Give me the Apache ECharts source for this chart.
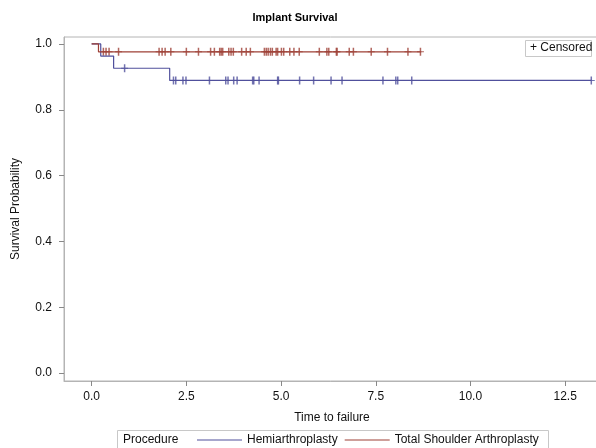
<!DOCTYPE html>
<html>
<head>
<meta charset="utf-8">
<script src="https://cdn.jsdelivr.net/npm/echarts@6/dist/echarts.min.js"></script>
<style>html,body{margin:0;padding:0;background:#fff;}#c{width:596px;height:448px;}</style>
</head>
<body>
<div id="c"></div>
<script>
// ---- data ----
var xTicks = [0, 2.5, 5.0, 7.5, 10.0, 12.5];
var yTicks = [0, 0.2, 0.4, 0.6, 0.8, 1.0];

// Hemiarthroplasty: step points (time, survival) and censored times
var hemiTimes = [0, 0.24, 0.58, 2.06, 13.2];
var hemiSurv  = [1.0, 0.963, 0.926, 0.889, 0.889];
var hemiCensor = [0.87, 2.16, 2.22, 2.41, 2.49, 3.11, 3.54, 3.60, 3.75, 3.84, 4.25, 4.28, 4.42,
  4.91, 4.93, 5.49, 5.86, 6.32, 6.61, 7.69, 8.03, 8.08, 8.45, 13.19];

// Total Shoulder Arthroplasty
var tsaTimes = [0, 0.18, 8.7];
var tsaSurv  = [1.0, 0.976, 0.976];
var tsaCensor = [0.31, 0.38, 0.46, 0.71, 1.78, 1.86, 1.94, 2.09, 2.50, 2.82, 3.14, 3.24, 3.38, 3.42,
  3.46, 3.62, 3.68, 3.74, 3.96, 4.08, 4.19, 4.56, 4.61, 4.66, 4.72, 4.77, 4.87, 4.91, 5.01, 5.07,
  5.23, 5.34, 5.48, 6.01, 6.21, 6.26, 6.46, 6.48, 6.80, 6.91, 7.38, 7.81, 8.35, 8.68];

var hemiColor = '#50509c';
var tsaColor = '#9e4036';
var FONT = 'Liberation Sans, Arial, sans-serif';

function stepData(t, s) { return t.map(function (v, i) { return [v, s[i]]; }); }
function survAt(t, s, x) {
  var v = s[0];
  for (var i = 0; i < t.length; i++) { if (t[i] <= x) v = s[i]; }
  return v;
}
function censorData(t, s, c) { return c.map(function (x) { return [x, survAt(t, s, x)]; }); }

var plusPath = 'path://M2.75,0H4.25V8H2.75Z M0,3.5H7V4.5H0Z';

var chart = echarts.init(document.getElementById('c'), null, { renderer: 'canvas' });
chart.setOption({
  animation: false,
  backgroundColor: '#fff',
  textStyle: { fontFamily: FONT },
  title: {
    text: 'Implant Survival', left: 290, top: 7, textAlign: 'center',
    textStyle: { fontFamily: FONT, fontSize: 11, fontWeight: 'bold', color: '#000' }
  },
  grid: { left: 64, right: -4, top: 37, bottom: 67, outerBoundsMode: 'none',
    show: true, borderColor: '#b4b4b4', borderWidth: 1 },
  xAxis: {
    type: 'value', min: -0.73, max: 13.42,
    name: 'Time to failure', nameLocation: 'middle', nameGap: 31,
    nameTextStyle: { fontFamily: FONT, fontSize: 12, color: '#111' },
    axisLine: { show: true, onZero: false, lineStyle: { color: '#b4b4b4' } },
    axisTick: { show: true, inside: false, length: 5, customValues: xTicks, lineStyle: { color: '#888' } },
    axisLabel: { customValues: xTicks, margin: 10, fontFamily: FONT, fontSize: 12, color: '#111',
      formatter: function (v) { return v.toFixed(1); } },
    splitLine: { show: false }
  },
  yAxis: {
    type: 'value', min: -0.024, max: 1.021,
    name: 'Survival Probability', nameLocation: 'middle', nameGap: 42, nameRotate: 90,
    nameTextStyle: { fontFamily: FONT, fontSize: 12, color: '#111' },
    axisLine: { show: true, onZero: false, lineStyle: { color: '#b4b4b4' } },
    axisTick: { show: true, inside: false, length: 5, customValues: yTicks, lineStyle: { color: '#888' } },
    axisLabel: { customValues: yTicks, margin: 12, fontFamily: FONT, fontSize: 12, color: '#111',
      formatter: function (v) { return v.toFixed(1); } },
    splitLine: { show: false }
  },
  legend: {
    data: ['Hemiarthroplasty', 'Total Shoulder Arthroplasty'],
    left: 197, top: 434, itemWidth: 45, itemHeight: 1, itemGap: 7, icon: 'rect', padding: 0,
    textStyle: { fontFamily: FONT, fontSize: 12, color: '#111' }
  },
  graphic: [
    { type: 'rect', shape: { x: 117.5, y: 430.5, width: 431, height: 20 },
      style: { fill: 'none', stroke: '#c8c8c8', lineWidth: 1 } },
    { type: 'text', x: 123, y: 434, style: { text: 'Procedure', font: '12px ' + FONT, fill: '#111' } },
    { type: 'rect', shape: { x: 525.5, y: 40.5, width: 66, height: 16 },
      style: { fill: '#fff', stroke: '#c8c8c8', lineWidth: 1 } },
    { type: 'text', x: 530, y: 42, style: { text: '+ Censored', font: '12px ' + FONT, fill: '#111' } }
  ],
  series: [
    { name: 'Hemiarthroplasty', type: 'line', step: 'end', data: stepData(hemiTimes, hemiSurv),
      showSymbol: false, lineStyle: { color: hemiColor, width: 1.2 }, itemStyle: { color: hemiColor } },
    { name: 'Total Shoulder Arthroplasty', type: 'line', step: 'end', data: stepData(tsaTimes, tsaSurv),
      showSymbol: false, lineStyle: { color: tsaColor, width: 1.2 }, itemStyle: { color: tsaColor } },
    { name: 'Hemi censored', type: 'scatter', data: censorData(hemiTimes, hemiSurv, hemiCensor),
      symbol: plusPath, symbolSize: [7, 8], itemStyle: { color: hemiColor } },
    { name: 'TSA censored', type: 'scatter', data: censorData(tsaTimes, tsaSurv, tsaCensor),
      symbol: plusPath, symbolSize: [7, 8], itemStyle: { color: tsaColor } }
  ]
});
</script>
</body>
</html>
